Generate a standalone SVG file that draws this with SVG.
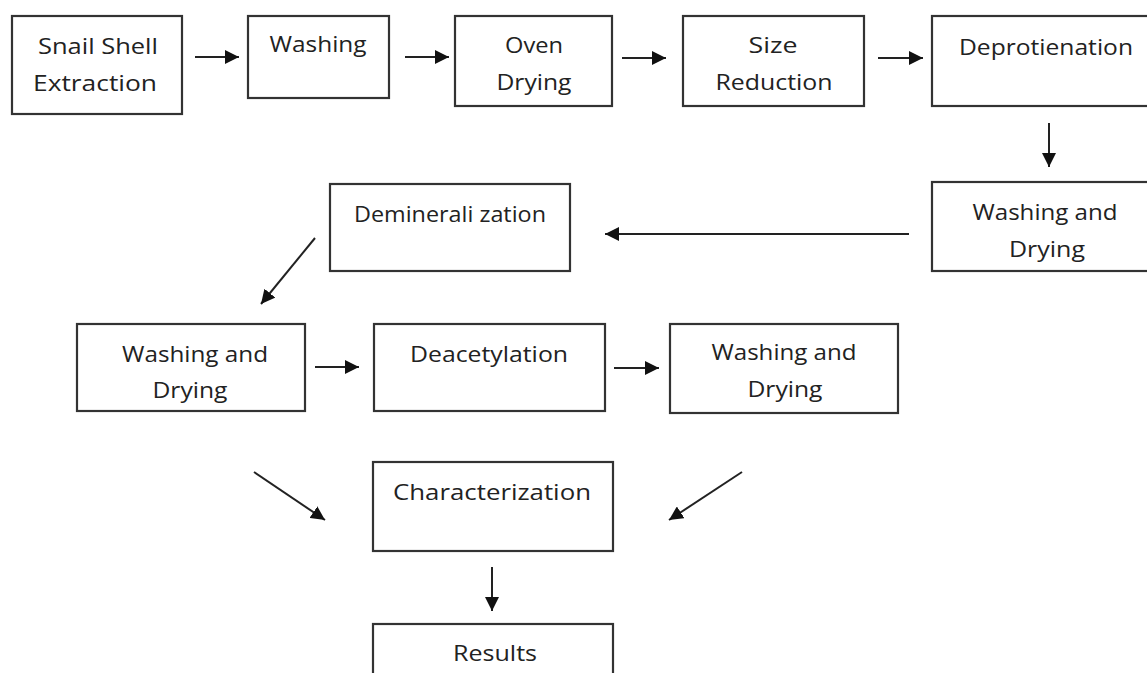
<svg xmlns="http://www.w3.org/2000/svg" width="1147" height="673" viewBox="0 0 1147 673">
<defs>
<marker id="ah" markerUnits="userSpaceOnUse" markerWidth="16" markerHeight="14" refX="14" refY="7" orient="auto">
<path d="M0,0 L14,7 L0,14 Z" fill="#111"/>
</marker>
<style>
.box{fill:#fff;stroke:#333;stroke-width:2.2}
.t{font-family:"Comic Sans MS","Open Sans",sans-serif;font-size:21px;fill:#222;text-anchor:middle}
.c{stroke:#222;stroke-width:2;fill:none;marker-end:url(#ah)}
</style>
</defs>
<rect width="1147" height="673" fill="#fff"/>
<g id="n1"><rect class="box" x="12" y="16" width="170" height="98"/><text class="t" x="98" y="54" textLength="120" lengthAdjust="spacingAndGlyphs">Snail Shell</text><text class="t" x="95" y="91" textLength="124" lengthAdjust="spacingAndGlyphs">Extraction</text></g>
<g id="n2"><rect class="box" x="248" y="16" width="141" height="82"/><text class="t" x="318" y="52" textLength="97" lengthAdjust="spacingAndGlyphs">Washing</text></g>
<g id="n3"><rect class="box" x="455" y="16" width="157" height="90"/><text class="t" x="534" y="53" textLength="58" lengthAdjust="spacingAndGlyphs">Oven</text><text class="t" x="534" y="90" textLength="75" lengthAdjust="spacingAndGlyphs">Drying</text></g>
<g id="n4"><rect class="box" x="683" y="16" width="181" height="90"/><text class="t" x="773" y="53" textLength="49" lengthAdjust="spacingAndGlyphs">Size</text><text class="t" x="774" y="90" textLength="117" lengthAdjust="spacingAndGlyphs">Reduction</text></g>
<g id="n5"><rect class="box" x="932" y="16" width="220" height="90"/><text class="t" x="1046" y="55" textLength="174" lengthAdjust="spacingAndGlyphs">Deprotienation</text></g>
<g id="n6"><rect class="box" x="932" y="182" width="220" height="89"/><text class="t" x="1045" y="220" textLength="145" lengthAdjust="spacingAndGlyphs">Washing and</text><text class="t" x="1047" y="257" textLength="76" lengthAdjust="spacingAndGlyphs">Drying</text></g>
<g id="n7"><rect class="box" x="330" y="184" width="240" height="87"/><text class="t" x="450" y="222" textLength="192" lengthAdjust="spacingAndGlyphs">Deminerali zation</text></g>
<g id="n8"><rect class="box" x="77" y="324" width="228" height="87"/><text class="t" x="195" y="362" textLength="146" lengthAdjust="spacingAndGlyphs">Washing and</text><text class="t" x="190" y="398" textLength="75" lengthAdjust="spacingAndGlyphs">Drying</text></g>
<g id="n9"><rect class="box" x="374" y="324" width="231" height="87"/><text class="t" x="489" y="362" textLength="158" lengthAdjust="spacingAndGlyphs">Deacetylation</text></g>
<g id="n10"><rect class="box" x="670" y="324" width="228" height="89"/><text class="t" x="784" y="360" textLength="145" lengthAdjust="spacingAndGlyphs">Washing and</text><text class="t" x="785" y="397" textLength="75" lengthAdjust="spacingAndGlyphs">Drying</text></g>
<g id="n11"><rect class="box" x="373" y="462" width="240" height="89"/><text class="t" x="492" y="500" textLength="198" lengthAdjust="spacingAndGlyphs">Characterization</text></g>
<g id="n12"><rect class="box" x="373" y="624" width="240" height="60"/><text class="t" x="495" y="661" textLength="84" lengthAdjust="spacingAndGlyphs">Results</text></g>
<g id="connectors">
<line class="c" x1="195" y1="57" x2="239" y2="57"/>
<line class="c" x1="405" y1="57" x2="449" y2="57"/>
<line class="c" x1="622" y1="58" x2="666" y2="58"/>
<line class="c" x1="878" y1="58" x2="923" y2="58"/>
<line class="c" x1="1049" y1="123" x2="1049" y2="167"/>
<line class="c" x1="909" y1="234" x2="605" y2="234"/>
<line class="c" x1="315" y1="238" x2="261" y2="304"/>
<line class="c" x1="315" y1="367" x2="359" y2="367"/>
<line class="c" x1="614" y1="368" x2="659" y2="368"/>
<line class="c" x1="254" y1="472" x2="325" y2="520"/>
<line class="c" x1="742" y1="472" x2="669" y2="520"/>
<line class="c" x1="492" y1="567" x2="492" y2="611"/>
</g>
</svg>
